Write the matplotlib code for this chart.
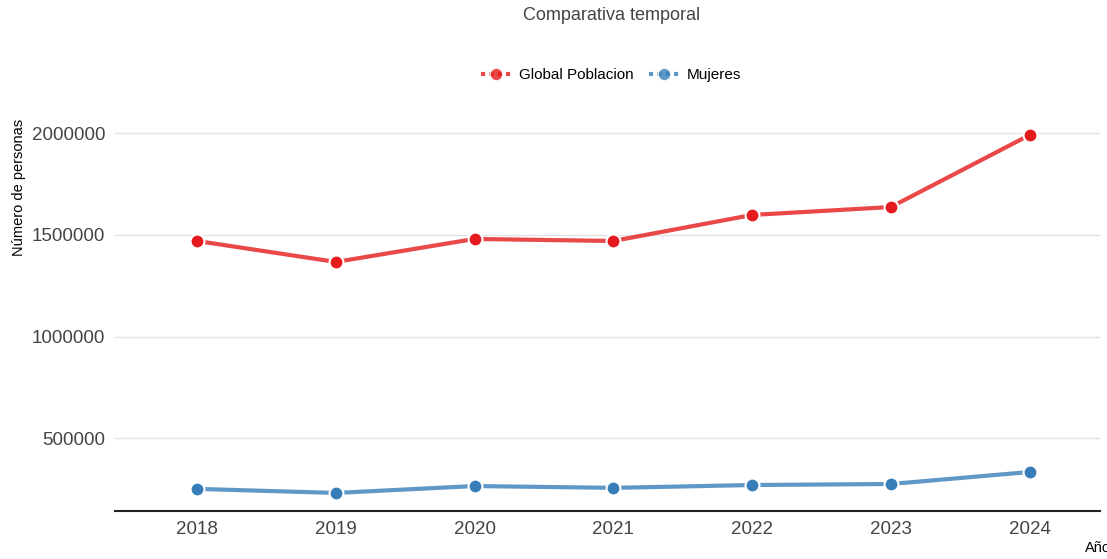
import matplotlib.pyplot as plt
from matplotlib.lines import Line2D
from matplotlib.ticker import FuncFormatter

plt.rcParams['font.family'] = ['Liberation Sans', 'DejaVu Sans']

anios = [2018, 2019, 2020, 2021, 2022, 2023, 2024]
global_poblacion = [1470000, 1367000, 1480000, 1470000, 1598000, 1637000, 1991000]
mujeres = [251000, 231000, 265000, 256000, 270000, 275000, 334000]
yticks = [500000, 1000000, 1500000, 2000000]

rojo = '#e41a1c'
azul = '#377eb8'

fig = plt.figure(figsize=(11.07, 5.59), dpi=100)
ax = fig.add_axes([0.104, 0.086, 0.89, 0.735])

ax.plot(anios, global_poblacion, color=rojo, alpha=0.8, linewidth=3, zorder=3)
ax.plot(anios, global_poblacion, linestyle='none', marker='o', markersize=10,
        markerfacecolor=rojo, markeredgecolor='white', markeredgewidth=1.5, zorder=4)
ax.plot(anios, mujeres, color=azul, alpha=0.8, linewidth=3, zorder=3)
ax.plot(anios, mujeres, linestyle='none', marker='o', markersize=10,
        markerfacecolor=azul, markeredgecolor='white', markeredgewidth=1.5, zorder=4)

ax.set_xlim(2017.41, 2024.51)
ax.set_ylim(142600, 2163000)
ax.set_xticks(anios)
ax.set_yticks(yticks)
ax.yaxis.set_major_formatter(FuncFormatter(lambda v, p: f'{int(v)}'))
ax.tick_params(length=0, labelsize=13.5, labelcolor='#444444', pad=7)
ax.grid(axis='y', color='#e2e2e2', linewidth=1)
ax.set_axisbelow(True)
for lado in ['top', 'right', 'left']:
    ax.spines[lado].set_visible(False)
ax.spines['bottom'].set_color('#222222')
ax.spines['bottom'].set_linewidth(1.5)

fig.text(0.552, 0.972, 'Comparativa temporal', ha='center', va='center',
         fontsize=13, color='#444444')
fig.text(0.017, 0.665, 'Número de personas', rotation=90, ha='center', va='center',
         fontsize=10.5, color='black')
fig.text(0.98, 0.02, 'Año', ha='left', va='center', fontsize=10.5, color='black')

handles = [
    Line2D([0], [0], color=rojo, alpha=0.8, linewidth=3, linestyle=(0, (1, 1)),
           marker='o', markersize=9, markerfacecolor=rojo, markeredgecolor='white'),
    Line2D([0], [0], color=azul, alpha=0.8, linewidth=3, linestyle=(0, (1, 1)),
           marker='o', markersize=9, markerfacecolor=azul, markeredgecolor='white'),
]
fig.legend(handles, ['Global Poblacion', 'Mujeres'], loc='center',
           bbox_to_anchor=(0.552, 0.866), ncol=2, frameon=False, fontsize=11,
           handlelength=2, handletextpad=0.5, columnspacing=1.0)

plt.savefig('out.png', dpi=100)
